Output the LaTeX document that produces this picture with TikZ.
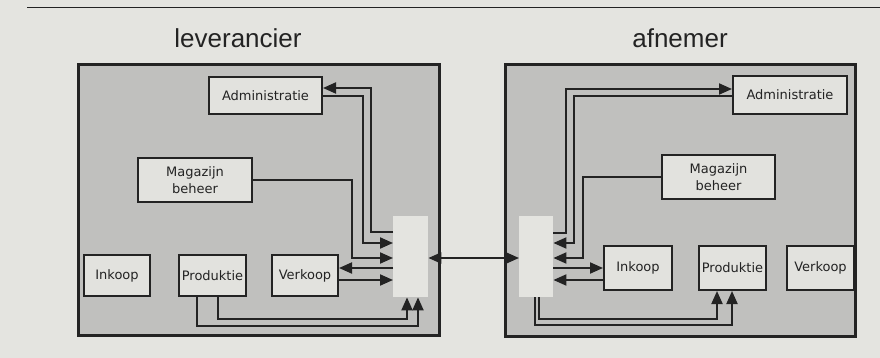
\documentclass[tikz,border=0pt]{standalone}
\usepackage{fontspec}
\setmainfont{DejaVu Sans}
\newfontfamily\titlefont{Liberation Sans}
\definecolor{scan}{RGB}{228,228,224}
\definecolor{stipple}{RGB}{192,192,190}
\definecolor{card}{RGB}{226,226,222}
\definecolor{ink}{RGB}{35,35,35}
\usepackage{tikz}
\usetikzlibrary{positioning, arrows.meta}
\tikzset{
  firm/.style={draw=ink, line width=2.8pt, fill=stipple, inner sep=0pt, anchor=north west},
  dept/.style={draw=ink, line width=2pt, fill=card, text=ink, inner sep=0pt, align=center,
    anchor=north west, font=\fontsize{13}{17}\selectfont},
  port/.style={fill=scan, inner sep=0pt, anchor=north west, minimum width=35pt, minimum height=81pt},
  link/.style={-{Triangle[length=13pt, width=11pt]}, line width=2pt, draw=ink},
  both/.style={link, {Triangle[length=13pt, width=11pt]}-{Triangle[length=13pt, width=11pt]}},
  title/.style={text=ink, anchor=base, font=\titlefont\fontsize{26}{30}\selectfont}
}

\begin{document}
\begin{tikzpicture}[x=1pt, y=-1pt, node distance=25pt]
  \useasboundingbox[fill=scan] (0,0) rectangle (880,358);
  \draw[ink, line width=1.7pt] (27,7.5) -- (880,7.5);

  \node[title] (ltitle) at (238,48) {leverancier};
  \node[title] (rtitle) at (680,48) {afnemer};

  \node[firm, minimum width=361pt, minimum height=271pt] (lfirm) at (77,63) {};
  \node[firm, minimum width=350pt, minimum height=272pt] (rfirm) at (504,63) {};

  % leverancier
  \node[dept, minimum width=113pt, minimum height=37pt] (ladm) at (208,76) {Administratie};
  \node[dept, minimum width=114pt, minimum height=44pt] (lmag) at (137,157) {Magazijn\\beheer};
  \node[dept, minimum width=66pt, minimum height=41pt] (lin) at (83,254) {Inkoop};
  \node[dept, minimum width=67pt, minimum height=41pt, right=27pt of lin] (lpro) {Produktie};
  \node[dept, minimum width=66pt, minimum height=41pt, right=24pt of lpro] (lver) {Verkoop};
  \node[port] (lport) at (393,216) {};

  % afnemer
  \node[dept, minimum width=114pt, minimum height=38pt] (radm) at (732,75) {Administratie};
  \node[dept, minimum width=113pt, minimum height=44pt] (rmag) at (661,154) {Magazijn\\beheer};
  \node[dept, minimum width=68pt, minimum height=44pt] (rin) at (603,245) {Inkoop};
  \node[dept, minimum width=67pt, minimum height=44pt, right=25pt of rin] (rpro) {Produktie};
  \node[dept, minimum width=67pt, minimum height=44pt, right=19pt of rpro] (rver) {Verkoop};
  \node[port, minimum width=34pt] (rport) at (519,216) {};

  \draw[link] (lport.west |- 0,232) -| (371,88) -- (ladm.east |- 0,88);
  \draw[link] (ladm.east |- 0,96) -| (363,243) -- (lport.west |- 0,243);
  \draw[link] (lmag.east |- 0,180) -| (352,258) -- (lport.west |- 0,258);
  \draw[link] (lport.west |- 0,268) -- (lver.east |- 0,268);
  \draw[link] (lver.east |- 0,280) -- (lport.west |- 0,280);
  \draw[link] (lpro.south -| 197,0) |- (418,326) -- (lport.south -| 418,0);
  \draw[link] (lpro.south -| 218,0) |- (407,319) -- (lport.south -| 407,0);

  \draw[both] (lport.east |- 0,258) -- (rport.west |- 0,258);

  \draw[link] (rport.east |- 0,233) -| (566,89) -- (radm.west |- 0,89);
  \draw[link] (radm.west |- 0,96) -| (574,243) -- (rport.east |- 0,243);
  \draw[link] (rmag.west |- 0,177) -| (583,258) -- (rport.east |- 0,258);
  \draw[link] (rport.east |- 0,268) -- (rin.west |- 0,268);
  \draw[link] (rin.west |- 0,280) -- (rport.east |- 0,280);
  \draw[link] (rport.south -| 535,0) |- (732,325) -- (rpro.south -| 732,0);
  \draw[link] (rport.south -| 539,0) |- (717,319) -- (rpro.south -| 717,0);
\end{tikzpicture}
\end{document}
